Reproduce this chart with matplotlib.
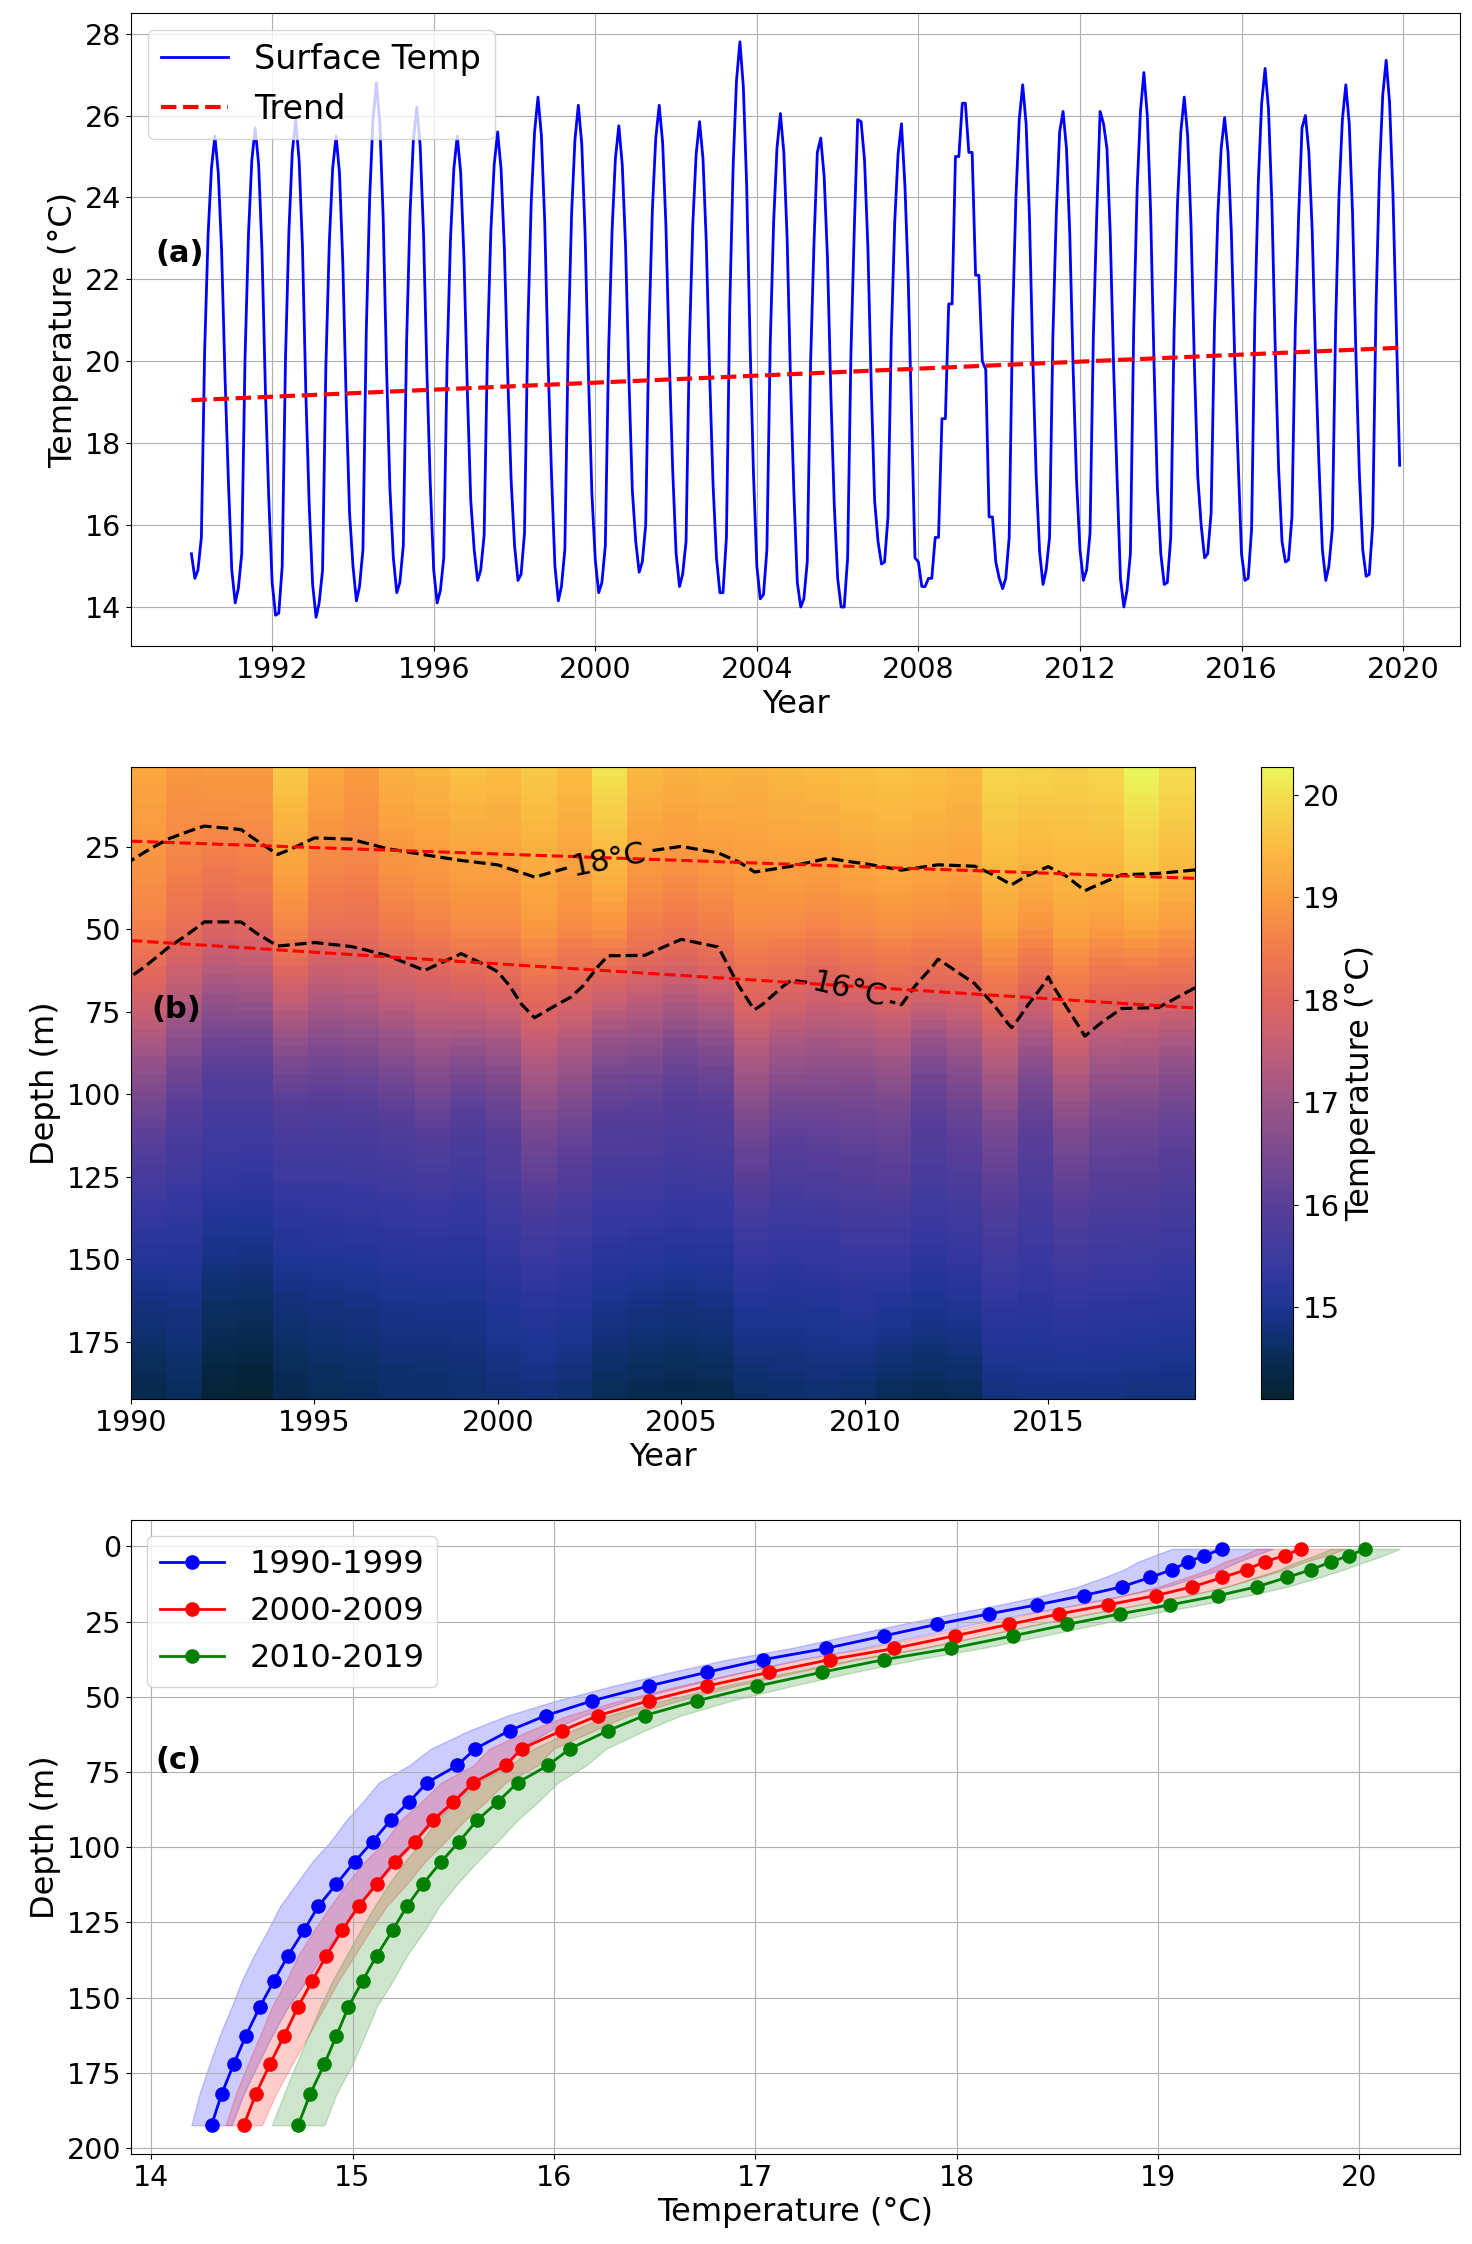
import numpy as np
import pandas as pd
import matplotlib
matplotlib.use("Agg")
import matplotlib.pyplot as plt
from matplotlib.colors import LinearSegmentedColormap

# ---- panel (a): monthly surface temperature, Jan 1990 - Dec 2019 ----
surface_temp = [
    15.3, 14.7, 14.9, 15.7, 20.3, 23.1, 24.7, 25.5, 24.6, 22.7, 19.6, 17.1,    # 1990
    14.9, 14.1, 14.45, 15.3, 20.1, 23.1, 24.9, 25.7, 24.8, 22.7, 19.3, 16.7,   # 1991
    14.6, 13.8, 13.85, 15.0, 20.1, 23.2, 25.1, 25.9, 24.9, 22.8, 19.2, 16.5,   # 1992
    14.55, 13.75, 14.1, 14.9, 19.9, 22.9, 24.7, 25.5, 24.6, 22.4, 19.0, 16.3,  # 1993
    15.0, 14.15, 14.5, 15.4, 20.7, 24.0, 25.9, 26.8, 25.8, 23.5, 19.8, 16.9,   # 1994
    15.2, 14.35, 14.6, 15.5, 20.5, 23.6, 25.4, 26.2, 25.25, 23.1, 19.7, 17.0,  # 1995
    14.9, 14.1, 14.4, 15.2, 20.0, 23.0, 24.7, 25.5, 24.6, 22.5, 19.2, 16.6,    # 1996
    15.4, 14.65, 14.9, 15.75, 20.3, 23.2, 24.8, 25.6, 24.7, 22.75, 19.6, 17.1, # 1997
    15.5, 14.65, 14.8, 15.8, 20.8, 23.9, 25.6, 26.45, 25.5, 23.4, 19.9, 17.25, # 1998
    15.0, 14.15, 14.5, 15.4, 20.4, 23.6, 25.4, 26.25, 25.3, 23.1, 19.6, 16.8,  # 1999
    15.15, 14.35, 14.6, 15.5, 20.3, 23.2, 24.95, 25.75, 24.8, 22.8, 19.5, 16.85,  # 2000
    15.6, 14.85, 15.1, 16.0, 20.8, 23.75, 25.45, 26.25, 25.35, 23.3, 20.0, 17.35, # 2001
    15.3, 14.5, 14.8, 15.6, 20.4, 23.35, 25.05, 25.85, 24.95, 22.9, 19.6, 17.0,   # 2002
    15.2, 14.35, 14.35, 15.7, 21.3, 24.8, 26.85, 27.8, 26.7, 24.3, 20.4, 17.3,    # 2003
    15.0, 14.2, 14.3, 15.4, 20.4, 23.4, 25.2, 26.05, 25.1, 23.0, 19.5, 16.8,      # 2004
    14.6, 14.0, 14.2, 15.1, 19.95, 22.9, 25.1, 25.45, 24.5, 22.5, 19.15, 16.5,    # 2005
    14.7, 14.0, 14.0, 15.2, 20.2, 23.3, 25.9, 25.85, 24.9, 22.8, 19.35, 16.6,     # 2006
    15.6, 15.05, 15.1, 16.2, 20.6, 23.4, 25.05, 25.8, 24.3, 22.0, 18.6, 15.2,     # 2007
    15.1, 14.5, 14.5, 14.7, 14.7, 15.7, 15.7, 18.6, 18.6, 21.4, 21.4, 25.0,       # 2008
    25.0, 26.3, 26.3, 25.1, 25.1, 22.1, 22.1, 20.0, 19.8, 16.2, 16.2, 15.1,       # 2009
    14.7, 14.45, 14.7, 15.7, 20.9, 24.0, 25.9, 26.75, 25.8, 23.55, 20.0, 17.2,    # 2010
    15.35, 14.55, 14.9, 15.7, 20.6, 23.6, 25.6, 26.1, 25.2, 23.1, 19.75, 17.1,    # 2011
    15.4, 14.65, 14.9, 15.8, 20.6, 23.6, 26.1, 25.8, 25.2, 23.1, 19.8, 17.2,      # 2012
    14.7, 14.0, 14.4, 15.3, 20.8, 24.2, 26.1, 27.05, 26.0, 23.65, 19.9, 16.9,     # 2013
    15.3, 14.55, 14.6, 15.7, 20.7, 23.85, 25.6, 26.45, 25.5, 23.35, 19.9, 17.2,   # 2014
    16.0, 15.2, 15.3, 16.3, 20.8, 23.6, 25.2, 25.95, 25.1, 23.15, 20.0, 17.6,     # 2015
    15.3, 14.65, 14.7, 15.9, 21.15, 24.4, 26.3, 27.15, 26.15, 23.9, 20.3, 17.4,   # 2016
    15.6, 15.1, 15.15, 16.2, 20.8, 23.6, 25.7, 26.0, 25.1, 23.2, 20.0, 17.5,      # 2017
    15.4, 14.65, 15.0, 15.9, 20.9, 24.1, 25.9, 26.75, 25.8, 23.6, 20.1, 17.3,     # 2018
    15.4, 14.75, 14.8, 16.0, 21.3, 24.6, 26.5, 27.35, 26.3, 24.1, 20.8, 17.46,    # 2019
]
trend_ends = [19.05, 20.33]   # trend value at first and last month

# ---- panel (b): yearly depth structure ----
years = np.arange(1990, 2020)
iso18_depth = [29.2, 22.7, 18.7, 19.8, 27.3, 22.3, 22.7, 25.6, 27.3, 29.2,
               30.6, 34.2, 31.0, 29.0, 26.5, 25.0, 27.0, 32.7, 31.0, 28.4,
               30.2, 32.3, 30.9, 31.3, 36.6, 31.3, 38.5, 33.5, 33.0, 32.2]
iso16_depth = [64.3, 55.7, 47.5, 47.5, 54.9, 53.8, 55.2, 57.8, 62.4, 57.1,
               62.8, 77.1, 70.7, 57.8, 57.8, 52.8, 55.2, 74.7, 65.4, 67.0,
               70.0, 72.9, 58.8, 66.4, 80.3, 64.3, 82.9, 74.3, 74.0, 67.8]
surf_T = [19.2, 18.95, 19.0, 19.0, 19.7, 19.2, 19.0, 19.35, 19.45, 19.6,
          19.5, 19.7, 19.5, 20.1, 19.45, 19.35, 19.4, 19.35, 19.45, 19.5,
          19.55, 19.6, 19.55, 19.45, 19.9, 19.85, 19.8, 19.9, 20.3, 20.0]
bottom_T = [14.4, 14.55, 14.15, 14.08, 14.4, 14.5, 14.55, 14.65, 14.65, 14.7,
            14.75, 14.8, 14.7, 14.5, 14.4, 14.35, 14.4, 14.6, 14.65, 14.7,
            14.65, 14.5, 14.45, 14.5, 14.8, 14.85, 14.85, 14.85, 14.8, 14.8]
# depth sampled by the image rows (rows are drawn evenly spaced): shown depth -> data depth
row_shown = [0.8, 25, 50, 75, 100, 125, 150, 175, 192.4]
row_depth = [0.8, 11, 19.5, 35.5, 53.5, 74, 106, 148, 192.4]
n_rows = 70

# ---- panel (c): decadal mean profiles ----
depth = np.array([0.8, 3.0, 5.1, 7.7, 10.3, 13.4, 16.3, 19.4, 22.4, 25.9, 29.7, 33.9,
                  37.6, 41.8, 46.4, 51.3, 56.2, 61.2, 67.2, 72.8, 78.5, 85.0, 90.9,
                  98.1, 104.8, 112.2, 119.6, 127.5, 136.0, 144.4, 153.0, 162.7,
                  172.1, 182.0, 192.4])
prof_1990s = np.array([19.32, 19.23, 19.15, 19.07, 18.96, 18.82, 18.63, 18.40, 18.16, 17.90,
                       17.64, 17.35, 17.04, 16.76, 16.47, 16.19, 15.96, 15.78, 15.61, 15.52,
                       15.37, 15.28, 15.19, 15.10, 15.01, 14.92, 14.83, 14.76, 14.68, 14.61,
                       14.54, 14.47, 14.41, 14.35, 14.30])
prof_2000s = np.array([19.71, 19.63, 19.53, 19.44, 19.32, 19.17, 18.99, 18.75, 18.51, 18.26,
                       17.99, 17.69, 17.37, 17.07, 16.76, 16.47, 16.22, 16.04, 15.84, 15.76,
                       15.60, 15.50, 15.40, 15.31, 15.21, 15.12, 15.03, 14.95, 14.87, 14.80,
                       14.73, 14.66, 14.59, 14.52, 14.46])
prof_2010s = np.array([20.03, 19.95, 19.86, 19.76, 19.64, 19.49, 19.30, 19.06, 18.81, 18.55,
                       18.28, 17.97, 17.64, 17.33, 17.01, 16.71, 16.45, 16.27, 16.08, 15.97,
                       15.82, 15.72, 15.62, 15.53, 15.44, 15.35, 15.27, 15.20, 15.12, 15.05,
                       14.98, 14.92, 14.86, 14.79, 14.73])
std_1990s = np.array([0.25, 0.25, 0.25, 0.24, 0.23, 0.22, 0.20, 0.19, 0.18, 0.18, 0.18, 0.18,
                      0.18, 0.18, 0.18, 0.18, 0.19, 0.20, 0.22, 0.24, 0.24, 0.23, 0.22, 0.21,
                      0.21, 0.20, 0.19, 0.18, 0.17, 0.16, 0.14, 0.13, 0.12, 0.11, 0.10])
std_2000s = np.array([0.22, 0.21, 0.20, 0.19, 0.18, 0.17, 0.16, 0.15, 0.15, 0.14, 0.14, 0.14,
                      0.14, 0.14, 0.14, 0.15, 0.15, 0.16, 0.16, 0.16, 0.16, 0.16, 0.16, 0.15,
                      0.15, 0.15, 0.14, 0.14, 0.14, 0.13, 0.13, 0.12, 0.11, 0.10, 0.09])
std_2010s = np.array([0.17, 0.17, 0.17, 0.16, 0.16, 0.15, 0.15, 0.15, 0.15, 0.15, 0.15, 0.15,
                      0.16, 0.16, 0.17, 0.17, 0.18, 0.18, 0.18, 0.19, 0.20, 0.20, 0.20, 0.19,
                      0.18, 0.17, 0.16, 0.16, 0.15, 0.15, 0.14, 0.14, 0.14, 0.13, 0.13])
decade_labels = ["1990-1999", "2000-2009", "2010-2019"]

plt.rcParams["font.size"] = 20
plt.rcParams["xtick.labelsize"] = 20.5
plt.rcParams["ytick.labelsize"] = 20.5
plt.rcParams["axes.labelsize"] = 23

# cmocean "thermal"-like colormap
thermal = LinearSegmentedColormap.from_list("thermal", [
    (0.00, "#042333"), (0.07, "#0a2d5a"), (0.14, "#1b3490"), (0.20, "#3538a0"),
    (0.31, "#5b3f98"), (0.47, "#9d5586"), (0.55, "#c05e78"), (0.63, "#df665f"),
    (0.71, "#f17a4e"), (0.79, "#fa9a40"), (0.87, "#fbba42"), (0.95, "#f5da4e"),
    (1.00, "#e9f65b")])

fig = plt.figure(figsize=(14.72, 22.44), dpi=100)

# (a) surface temperature time series
ax1 = fig.add_axes([0.089, 0.7121, 0.9029, 0.2821])
dates = pd.date_range("1990-01-01", periods=len(surface_temp), freq="MS")
ax1.plot(dates, surface_temp, color="blue", lw=2, label="Surface Temp")
ax1.plot([dates[0], dates[-1]], trend_ends, "r--", lw=3, label="Trend")
ax1.set_xlabel("Year")
ax1.set_ylabel("Temperature (°C)")
ax1.grid(True)
ax1.legend(loc="upper left", fontsize=24)
ax1.text(0.018, 0.62, "(a)", transform=ax1.transAxes, fontsize=22,
         fontweight="bold", va="center")

# (b) depth-time section built from the decadal profiles, shifted to the
# isotherm depths and surface/bottom values read for each year
profiles = [prof_1990s, prof_2000s, prof_2010s]
field = np.empty((len(depth), len(years)))
for j, yr in enumerate(years):
    prof = profiles[(yr - 1990) // 10]
    d18 = np.interp(18, prof[::-1], depth[::-1])
    d16 = np.interp(16, prof[::-1], depth[::-1])
    warp = np.interp(depth, [depth[0], iso18_depth[j], iso16_depth[j], depth[-1]],
                     [depth[0], d18, d16, depth[-1]])
    col = np.interp(warp, depth, prof)
    w_top = np.clip((iso18_depth[j] - depth) / (iso18_depth[j] - depth[0]), 0, 1)
    w_bot = np.clip((depth - iso16_depth[j]) / (depth[-1] - iso16_depth[j]), 0, 1)
    col = col + (surf_T[j] - prof[0]) * w_top + (bottom_T[j] - prof[-1]) * w_bot
    field[:, j] = col

shown = depth[0] + (np.arange(n_rows) + 0.5) * (depth[-1] - depth[0]) / n_rows
img_depth = np.interp(shown, row_shown, row_depth)
image = np.array([np.interp(img_depth, depth, field[:, j]) for j in range(len(years))]).T

ax2 = fig.add_axes([0.089, 0.3766, 0.7228, 0.2816])
im = ax2.imshow(image, aspect="auto", cmap=thermal,
                extent=[years[0], years[-1], depth[-1], depth[0]])
cs = ax2.contour(years, depth, field, levels=[16, 18], colors="k",
                 linestyles="--", linewidths=2.3)
ax2.clabel(cs, fmt={16: "16°C", 18: "18°C"}, fontsize=22,
           manual=[(2003, 28), (2009.6, 67)])
for level in (18, 16):
    iso = [np.interp(level, field[::-1, j], depth[::-1]) for j in range(len(years))]
    fit = np.polyfit(years, iso, 1)
    ax2.plot(years, np.polyval(fit, years), "r--", lw=2.2)
ax2.set_xlim(years[0], years[-1])
ax2.set_ylim(depth[-1], depth[0])
ax2.set_xlabel("Year")
ax2.set_ylabel("Depth (m)")
ax2.text(0.019, 0.617, "(b)", transform=ax2.transAxes, fontsize=22,
         fontweight="bold", va="center")

cax = fig.add_axes([0.8567, 0.3766, 0.0217, 0.2816])
cb = fig.colorbar(im, cax=cax)
cb.set_label("Temperature (°C)", fontsize=23)
cb.ax.tick_params(labelsize=21)

# (c) decadal mean profiles with spread
ax3 = fig.add_axes([0.089, 0.0401, 0.9029, 0.2825])
stds = [std_1990s, std_2000s, std_2010s]
for prof, sd, c, lab in zip(profiles, stds, ["blue", "red", "green"], decade_labels):
    ax3.plot(prof, depth, "o-", color=c, lw=2, ms=9.5, label=lab)
    ax3.fill_betweenx(depth, prof - sd, prof + sd, color=c, alpha=0.2)
ax3.invert_yaxis()
ax3.set_xlabel("Temperature (°C)")
ax3.set_ylabel("Depth (m)")
ax3.grid(True)
ax3.legend(loc="upper left", fontsize=23)
ax3.text(0.018, 0.62, "(c)", transform=ax3.transAxes, fontsize=22,
         fontweight="bold", va="center")

fig.savefig("out.png", dpi=100)
